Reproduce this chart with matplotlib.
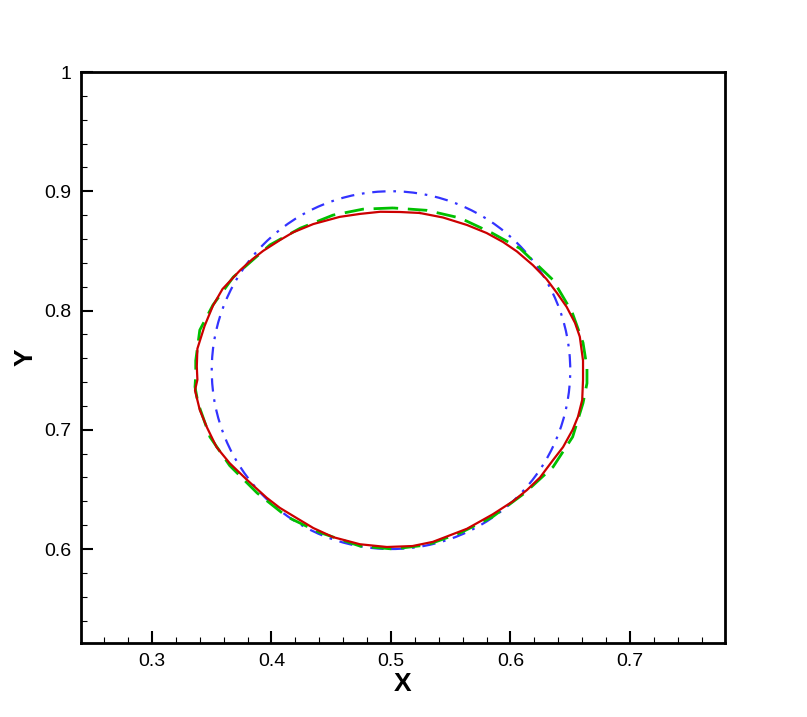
import matplotlib
matplotlib.use("Agg")
import matplotlib.pyplot as plt
from matplotlib.patches import Circle
from matplotlib.ticker import MultipleLocator

# ---- data ----
red_x = [0.524, 0.5075, 0.491, 0.474, 0.457, 0.435, 0.418, 0.407, 0.393, 0.384, 0.374,
         0.359, 0.351, 0.344, 0.338, 0.3375, 0.338, 0.336, 0.340, 0.346, 0.354,
         0.365, 0.3795, 0.396, 0.407, 0.421, 0.435, 0.4515, 0.474, 0.4966, 0.518,
         0.535, 0.5636, 0.585, 0.602, 0.6138, 0.6247, 0.6356, 0.644, 0.652, 0.6565,
         0.660, 0.6607, 0.6607, 0.658, 0.654, 0.647, 0.6389, 0.630, 0.6188, 0.6054,
         0.5937, 0.580, 0.5636, 0.5435, 0.524]
red_y = [0.8818, 0.8826, 0.8828, 0.881, 0.8785, 0.8725, 0.8655, 0.859, 0.850, 0.843, 0.834,
         0.818, 0.804, 0.787, 0.768, 0.753, 0.742, 0.733, 0.7166, 0.702, 0.6855,
         0.672, 0.658, 0.643, 0.6345, 0.626, 0.6176, 0.610, 0.604, 0.6017, 0.6025,
         0.606, 0.617, 0.629, 0.640, 0.6495, 0.660, 0.6746, 0.6855, 0.700, 0.711,
         0.725, 0.742, 0.758, 0.778, 0.7896, 0.803, 0.8147, 0.8265, 0.838, 0.8495,
         0.8575, 0.865, 0.8717, 0.878, 0.8818]

green_x = [0.5017, 0.4766, 0.4515, 0.424, 0.3987, 0.368, 0.351, 0.340, 0.3366, 0.3366,
           0.336, 0.3385, 0.3485, 0.365, 0.388, 0.413, 0.440, 0.474, 0.5017, 0.530,
           0.5577, 0.585, 0.612, 0.6356, 0.652, 0.6607, 0.664, 0.664, 0.6607, 0.6515,
           0.6356, 0.608, 0.5845, 0.5577, 0.530, 0.5017]
green_y = [0.886, 0.885, 0.880, 0.869, 0.855, 0.828, 0.8046, 0.7836, 0.758, 0.746,
           0.736, 0.7224, 0.694, 0.670, 0.647, 0.627, 0.614, 0.6025, 0.600, 0.6034,
           0.6134, 0.627, 0.647, 0.6688, 0.694, 0.7224, 0.739, 0.752, 0.773, 0.7987,
           0.8256, 0.852, 0.865, 0.8776, 0.884, 0.886]

blue_center = (0.5, 0.75)
blue_radius = 0.15

xlim = (0.2406, 0.7795)
ylim = (0.5212, 1.0)

plt.rcParams['font.family'] = ['Liberation Sans', 'DejaVu Sans']

fig = plt.figure(figsize=(8.07, 7.17), dpi=100)
ax = fig.add_axes([81/807, 74/717, (725-81)/807, (643-72)/717])

ax.add_patch(Circle(blue_center, blue_radius, fill=False, edgecolor='#3333ff',
                    linewidth=1.6, linestyle=(0, (6, 3.5, 1.2, 3.5)), zorder=2))
ax.plot(green_x, green_y, color='#00c000', linewidth=2.0,
        linestyle=(0, (7, 3.5)), zorder=3)
ax.plot(red_x, red_y, color='#cc0000', linewidth=1.6, linestyle='-', zorder=4)

ax.set_xlim(*xlim)
ax.set_ylim(*ylim)
ax.xaxis.set_major_locator(MultipleLocator(0.1))
ax.xaxis.set_minor_locator(MultipleLocator(0.02))
ax.yaxis.set_major_locator(MultipleLocator(0.1))
ax.yaxis.set_minor_locator(MultipleLocator(0.02))

def fmt(v, pos):
    s = f"{v:.1f}"
    return "1" if abs(v - 1.0) < 1e-9 else s
ax.xaxis.set_major_formatter(plt.FuncFormatter(fmt))
ax.yaxis.set_major_formatter(plt.FuncFormatter(fmt))

ax.tick_params(which='major', direction='in', length=8.5, width=1.5,
               labelsize=14, pad=7, top=False, right=False)
ax.tick_params(which='minor', direction='in', length=4.3, width=0.8,
               top=False, right=False)
for s in ax.spines.values():
    s.set_linewidth(2.0)

ax.set_xlabel('X', fontsize=19, fontweight='bold', labelpad=1.5)
ax.set_ylabel('Y', fontsize=19, fontweight='bold', labelpad=5)

fig.savefig('out.png', dpi=100)
